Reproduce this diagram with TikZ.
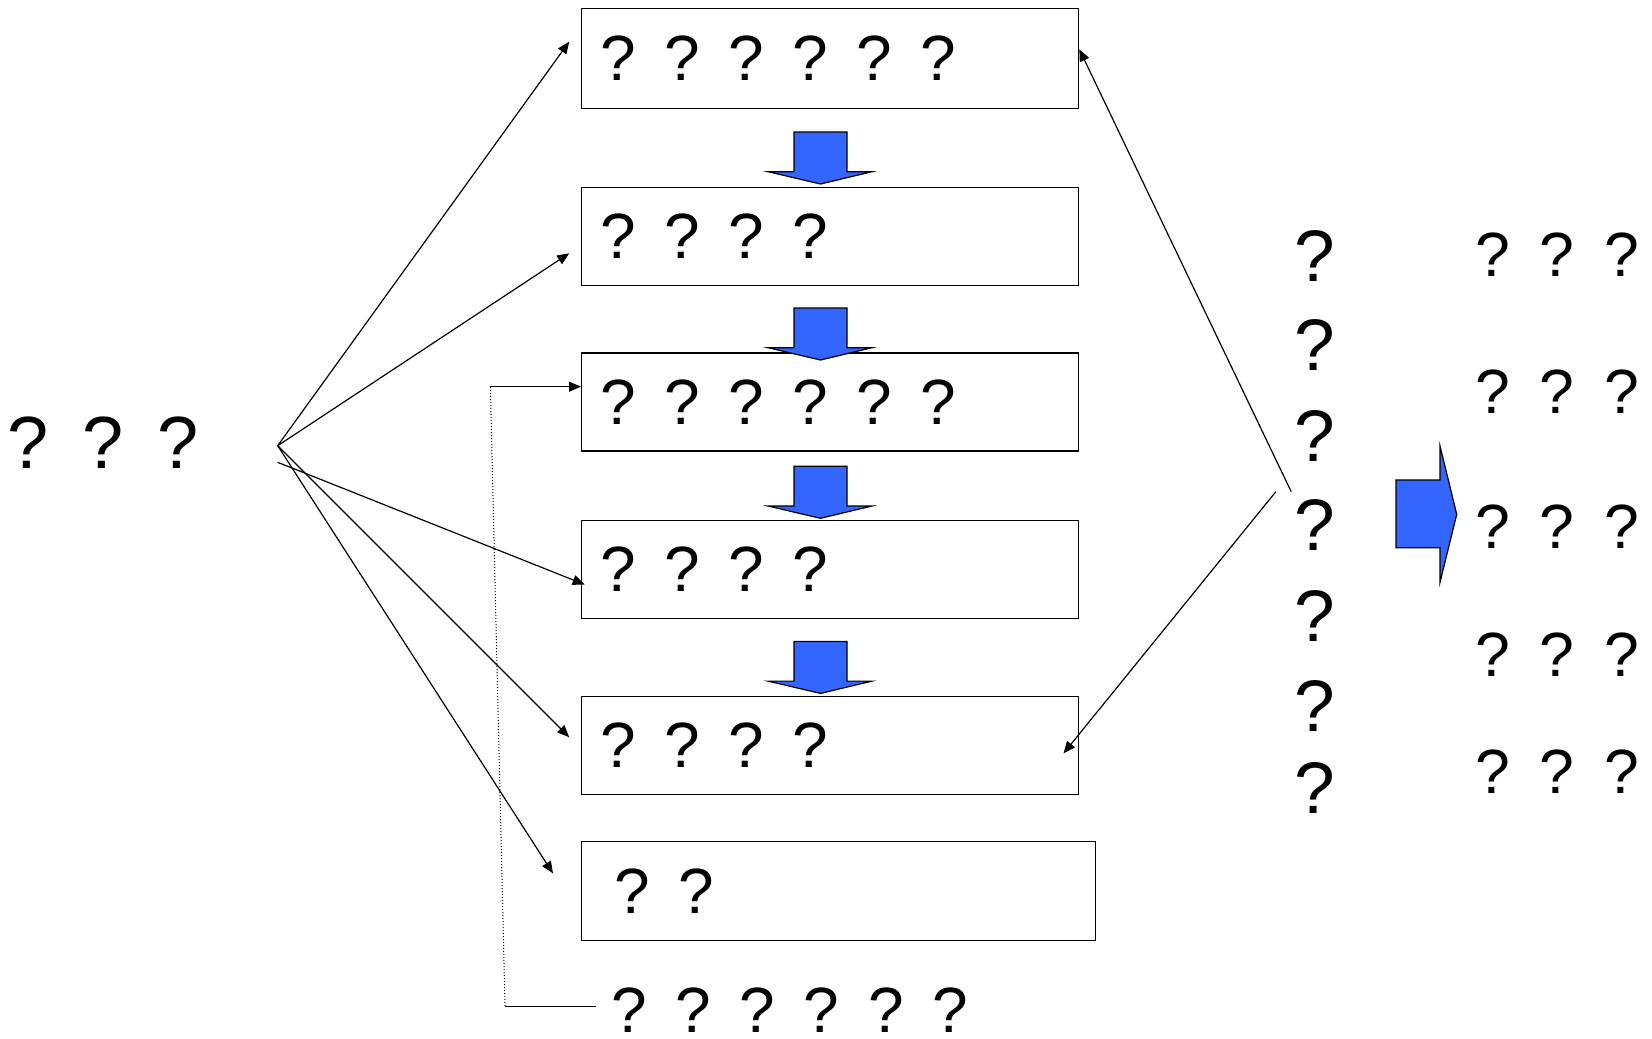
\documentclass[tikz,border=0pt]{standalone}
\usepackage{fontspec}
\setmainfont{Liberation Sans}
\usetikzlibrary{arrows.meta}
\definecolor{arrowblue}{RGB}{51,102,255}
\newcommand\boxsp{\frenchspacing\spaceskip=14.3pt\xspaceskip=14.3pt\relax}

\begin{document}
\begin{tikzpicture}[x=0.5pt,y=-0.5pt,
  conn/.style={line width=0.6pt, -{Triangle[length=6pt,width=5pt]}},
  stagebox/.style={draw, line width=0.6pt, rectangle, anchor=north west,
    minimum height=49pt, text width=230.1pt, inner xsep=9.2pt, inner ysep=0pt,
    align=left, font={\fontsize{32pt}{38pt}\selectfont}},
  blockarrow/.style={fill=arrowblue, draw=black, line width=0.6pt, line join=miter},
  qtext/.style 2 args={inner sep=0pt, anchor=base west,
    font={\fontsize{#1}{#1}\selectfont\frenchspacing\spaceskip=#2\xspaceskip=#2\relax}},
  colq/.style={inner sep=0pt, anchor=base, font={\fontsize{36.5pt}{40pt}\selectfont}},
]
\useasboundingbox (0,0) rectangle (1652,1038);

% stage boxes
\node[stagebox, minimum height=49.7pt] (box1) at (581,8.3) {\boxsp ? ? ? ? ? ?};
\node[stagebox] (box2) at (581,186.7) {\boxsp ? ? ? ?};
\node[stagebox] (box3) at (581,352.4) {\boxsp ? ? ? ? ? ?};
\node[stagebox] (box4) at (581,520) {\boxsp ? ? ? ?};
\node[stagebox] (box5) at (581,696) {\boxsp ? ? ? ?};
\node[stagebox, text width=224pt, inner xsep=16.5pt, minimum height=49.5pt] (box6) at (581,841) {\boxsp ? ?};

% blue down arrows between boxes
\foreach \t in {132,308,466.3,641.4} {
  \draw[blockarrow] (794,\t) -- (847,\t) -- (847,\t+39.7) -- (872,\t+39.7)
    -- (820.5,\t+52) -- (768,\t+39.7) -- (794,\t+39.7) -- cycle;
}

% right blue arrow
\draw[blockarrow] (1396,480) -- (1440,480) -- (1440,446) -- (1456.7,514.3)
  -- (1440,582.3) -- (1440,547.7) -- (1396,547.7) -- cycle;

% texts
\node[qtext={37pt}{16.8pt}] (src) at (7.5,468.3) {? ? ?};
\node[qtext={32pt}{14.3pt}] (note) at (611,1032.7) {? ? ? ? ? ?};
\foreach \y [count=\i] in {281.7,370,461.7,550,641.4,731,813.8}
  \node[colq] (col\i) at (1314.4,\y) {?};
\foreach \y [count=\i] in {276.7,413.3,548.3,676,793}
  \node[qtext={31.25pt}{14.9pt}] (out\i) at (1474.9,\y) {? ? ?};

% left fan connectors
\coordinate (a) at (277.7,445.7);
\coordinate (a2) at (277.7,462.3);
\coordinate (t1) at (569.2,41.7);
\coordinate (t2) at (569.2,253.3);
\coordinate (t3) at (584.6,584.5);
\coordinate (t4) at (569.2,737.2);
\coordinate (t5) at (553,873.4);
\draw[conn] (a) -- (t1);
\draw[conn] (a) -- (t2);
\draw[conn] (a2) -- (t3);
\draw[conn] (a) -- (t4);
\draw[conn] (a) -- (t5);

% right connectors
\coordinate (r1) at (1291.2,491.7);
\coordinate (r2) at (1275.8,491.7);
\coordinate (u1) at (1079.3,49.3);
\coordinate (u2) at (1063.5,753.4);
\draw[conn] (r1) -- (u1);
\draw[conn] (r2) -- (u2);

% feedback connector from bottom note to third box
\coordinate (c1) at (490.4,386.7);
\coordinate (c2) at (505,1006);
\coordinate (c3) at (595.7,1006);
\draw[line width=0.5pt] (c3) -- (c2);
\draw[line width=0.5pt, densely dotted] (c2) -- (c1);
\draw[conn, line width=0.5pt] (c1) -- (c1 -| box3.west);
\end{tikzpicture}
\end{document}
